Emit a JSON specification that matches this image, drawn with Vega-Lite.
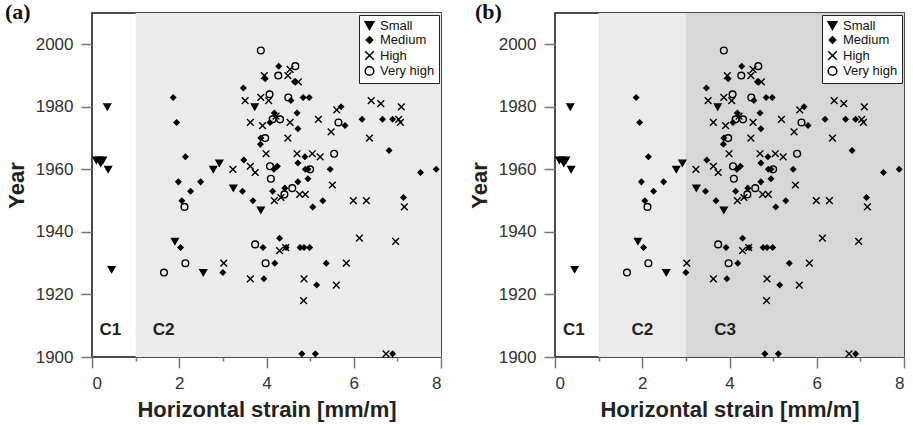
{
  "$schema": "https://vega.github.io/schema/vega-lite/v6.json",
  "padding": {"left": 4, "top": 0, "right": 2, "bottom": 2},
  "background": "white",
  "datasets": {
    "points": [
      {"x": 0.35, "y": 1980, "c": "Small"},
      {"x": 0.1, "y": 1963, "c": "Small"},
      {"x": 0.17, "y": 1963, "c": "Small"},
      {"x": 0.25, "y": 1963, "c": "Small"},
      {"x": 0.2, "y": 1962, "c": "Small"},
      {"x": 0.37, "y": 1960, "c": "Small"},
      {"x": 0.45, "y": 1928, "c": "Small"},
      {"x": 3.73, "y": 1980, "c": "Small"},
      {"x": 2.78, "y": 1960, "c": "Small"},
      {"x": 2.92, "y": 1962, "c": "Small"},
      {"x": 3.24, "y": 1954, "c": "Small"},
      {"x": 3.87, "y": 1947, "c": "Small"},
      {"x": 1.9, "y": 1937, "c": "Small"},
      {"x": 2.55, "y": 1927, "c": "Small"},

      {"x": 1.86, "y": 1983, "c": "Medium"},
      {"x": 1.94, "y": 1975, "c": "Medium"},
      {"x": 2.14, "y": 1964, "c": "Medium"},
      {"x": 1.98, "y": 1956, "c": "Medium"},
      {"x": 2.49, "y": 1956, "c": "Medium"},
      {"x": 2.26, "y": 1953, "c": "Medium"},
      {"x": 2.06, "y": 1950, "c": "Medium"},
      {"x": 2.03, "y": 1935, "c": "Medium"},
      {"x": 3.0, "y": 1927, "c": "Medium"},
      {"x": 3.47, "y": 1986, "c": "Medium"},
      {"x": 3.48, "y": 1963, "c": "Medium"},
      {"x": 3.45, "y": 1953, "c": "Medium"},
      {"x": 3.69, "y": 1950, "c": "Medium"},
      {"x": 3.86, "y": 1968, "c": "Medium"},
      {"x": 3.87, "y": 1970, "c": "Medium"},
      {"x": 3.97, "y": 1989, "c": "Medium"},
      {"x": 4.28, "y": 1993, "c": "Medium"},
      {"x": 4.18, "y": 1978, "c": "Medium"},
      {"x": 4.08, "y": 1975, "c": "Medium"},
      {"x": 4.25, "y": 1961, "c": "Medium"},
      {"x": 4.17, "y": 1960, "c": "Medium"},
      {"x": 4.14, "y": 1953, "c": "Medium"},
      {"x": 4.42, "y": 1954, "c": "Medium"},
      {"x": 4.56, "y": 1982, "c": "Medium"},
      {"x": 4.64, "y": 1988, "c": "Medium"},
      {"x": 4.7, "y": 1978, "c": "Medium"},
      {"x": 4.72, "y": 1973, "c": "Medium"},
      {"x": 4.72, "y": 1962, "c": "Medium"},
      {"x": 4.72, "y": 1956, "c": "Medium"},
      {"x": 4.84, "y": 1983, "c": "Medium"},
      {"x": 4.98, "y": 1983, "c": "Medium"},
      {"x": 4.88, "y": 1964, "c": "Medium"},
      {"x": 4.89, "y": 1960, "c": "Medium"},
      {"x": 4.95, "y": 1960, "c": "Medium"},
      {"x": 4.95, "y": 1957, "c": "Medium"},
      {"x": 5.06, "y": 1948, "c": "Medium"},
      {"x": 5.29, "y": 1950, "c": "Medium"},
      {"x": 5.46, "y": 1960, "c": "Medium"},
      {"x": 5.71, "y": 1980, "c": "Medium"},
      {"x": 5.8, "y": 1974, "c": "Medium"},
      {"x": 6.19, "y": 1976, "c": "Medium"},
      {"x": 6.66, "y": 1976, "c": "Medium"},
      {"x": 6.81, "y": 1966, "c": "Medium"},
      {"x": 6.89, "y": 1976, "c": "Medium"},
      {"x": 7.14, "y": 1951, "c": "Medium"},
      {"x": 7.53, "y": 1959, "c": "Medium"},
      {"x": 7.89, "y": 1960, "c": "Medium"},
      {"x": 4.3, "y": 1938, "c": "Medium"},
      {"x": 3.92, "y": 1935, "c": "Medium"},
      {"x": 4.45, "y": 1935, "c": "Medium"},
      {"x": 4.77, "y": 1935, "c": "Medium"},
      {"x": 4.86, "y": 1935, "c": "Medium"},
      {"x": 4.99, "y": 1935, "c": "Medium"},
      {"x": 4.19, "y": 1930, "c": "Medium"},
      {"x": 5.37, "y": 1930, "c": "Medium"},
      {"x": 3.94, "y": 1925, "c": "Medium"},
      {"x": 5.15, "y": 1923, "c": "Medium"},
      {"x": 4.81, "y": 1901, "c": "Medium"},
      {"x": 5.12, "y": 1901, "c": "Medium"},
      {"x": 6.89, "y": 1901, "c": "Medium"},

      {"x": 3.95, "y": 1990, "c": "High"},
      {"x": 4.49, "y": 1990, "c": "High"},
      {"x": 4.54, "y": 1992, "c": "High"},
      {"x": 4.73, "y": 1988, "c": "High"},
      {"x": 3.51, "y": 1982, "c": "High"},
      {"x": 3.87, "y": 1983, "c": "High"},
      {"x": 4.05, "y": 1982, "c": "High"},
      {"x": 3.63, "y": 1975, "c": "High"},
      {"x": 3.91, "y": 1974, "c": "High"},
      {"x": 4.22, "y": 1977, "c": "High"},
      {"x": 4.54, "y": 1975, "c": "High"},
      {"x": 4.49, "y": 1970, "c": "High"},
      {"x": 3.99, "y": 1965, "c": "High"},
      {"x": 3.63, "y": 1961, "c": "High"},
      {"x": 3.74, "y": 1959, "c": "High"},
      {"x": 3.23, "y": 1960, "c": "High"},
      {"x": 4.7, "y": 1965, "c": "High"},
      {"x": 5.05, "y": 1965, "c": "High"},
      {"x": 5.23, "y": 1964, "c": "High"},
      {"x": 5.19, "y": 1976, "c": "High"},
      {"x": 5.48, "y": 1972, "c": "High"},
      {"x": 5.61, "y": 1979, "c": "High"},
      {"x": 5.51, "y": 1955, "c": "High"},
      {"x": 4.76, "y": 1952, "c": "High"},
      {"x": 4.89, "y": 1952, "c": "High"},
      {"x": 4.18, "y": 1950, "c": "High"},
      {"x": 4.33, "y": 1951, "c": "High"},
      {"x": 5.99, "y": 1950, "c": "High"},
      {"x": 6.29, "y": 1950, "c": "High"},
      {"x": 6.4, "y": 1982, "c": "High"},
      {"x": 6.62, "y": 1981, "c": "High"},
      {"x": 7.09, "y": 1980, "c": "High"},
      {"x": 7.03, "y": 1976, "c": "High"},
      {"x": 7.07, "y": 1975, "c": "High"},
      {"x": 6.36, "y": 1970, "c": "High"},
      {"x": 7.16, "y": 1948, "c": "High"},
      {"x": 6.13, "y": 1938, "c": "High"},
      {"x": 6.96, "y": 1937, "c": "High"},
      {"x": 4.3, "y": 1934, "c": "High"},
      {"x": 4.44, "y": 1935, "c": "High"},
      {"x": 3.02, "y": 1930, "c": "High"},
      {"x": 5.83, "y": 1930, "c": "High"},
      {"x": 3.63, "y": 1925, "c": "High"},
      {"x": 4.86, "y": 1925, "c": "High"},
      {"x": 5.6, "y": 1923, "c": "High"},
      {"x": 4.85, "y": 1918, "c": "High"},
      {"x": 6.74, "y": 1901, "c": "High"},

      {"x": 3.87, "y": 1998, "c": "Very high"},
      {"x": 4.66, "y": 1993, "c": "Very high"},
      {"x": 4.27, "y": 1990, "c": "Very high"},
      {"x": 4.07, "y": 1984, "c": "Very high"},
      {"x": 4.5, "y": 1983, "c": "Very high"},
      {"x": 4.14, "y": 1976, "c": "Very high"},
      {"x": 4.31, "y": 1976, "c": "Very high"},
      {"x": 5.65, "y": 1975, "c": "Very high"},
      {"x": 3.97, "y": 1970, "c": "Very high"},
      {"x": 4.08, "y": 1961, "c": "Very high"},
      {"x": 4.1, "y": 1957, "c": "Very high"},
      {"x": 5.0, "y": 1960, "c": "Very high"},
      {"x": 5.55, "y": 1965, "c": "Very high"},
      {"x": 4.59, "y": 1954, "c": "Very high"},
      {"x": 4.41, "y": 1952, "c": "Very high"},
      {"x": 2.12, "y": 1948, "c": "Very high"},
      {"x": 3.74, "y": 1936, "c": "Very high"},
      {"x": 3.98, "y": 1930, "c": "Very high"},
      {"x": 2.14, "y": 1930, "c": "Very high"},
      {"x": 1.65, "y": 1927, "c": "Very high"}
    ],
    "labelsA": [
      {"x": 0.42, "y": 1908.5, "t": "C1"},
      {"x": 1.64, "y": 1908.5, "t": "C2"}
    ],
    "labelsB": [
      {"x": 0.43, "y": 1908.5, "t": "C1"},
      {"x": 2.0, "y": 1908.5, "t": "C2"},
      {"x": 3.9, "y": 1908.5, "t": "C3"}
    ],
    "c2A": [{"x1": 1, "x2": 8}],
    "c2B": [{"x1": 1, "x2": 3}],
    "c3B": [{"x1": 3, "x2": 8}],
    "linesA": [{"x": 1}],
    "linesB": [{"x": 1}, {"x": 3}]
  },
  "config": {
    "view": {"stroke": "#111", "strokeWidth": 1.5},
    "font": "Liberation Sans",
    "axis": {
      "grid": false,
      "domain": false,
      "labelFont": "Liberation Sans",
      "labelFontSize": 17,
      "labelColor": "#333",
      "titleFont": "Liberation Sans",
      "titleFontSize": 22,
      "titleFontWeight": "bold",
      "titleColor": "#222",
      "tickColor": "#777",
      "tickWidth": 1.5
    },
    "legend": {
      "orient": "top-right",
      "offset": 2,
      "padding": 4,
      "strokeColor": "#222",
      "fillColor": "white",
      "labelFont": "Liberation Sans",
      "labelFontSize": 13,
      "labelColor": "#111",
      "labelOffset": 4,
      "rowPadding": 0.5,
      "symbolSize": 75,
      "symbolStrokeWidth": 1.5,
      "title": null
    },
    "title": {
      "anchor": "start",
      "frame": "group",
      "font": "Liberation Serif",
      "fontSize": 22,
      "fontWeight": "bold",
      "color": "#111",
      "offset": -11,
      "baseline": "alphabetic"
    }
  },
  "spacing": 24,
  "resolve": {"legend": {"shape": "independent", "fill": "independent", "stroke": "independent"}},
  "hconcat": [
    {
      "width": 349,
      "height": 344,
      "title": {"text": "(a)", "dx": -87},
      "encoding": {
        "x": {"field": "x", "type": "quantitative", "scale": {"domain": [0, 8], "nice": false, "zero": false},
          "axis": {"title": "Horizontal strain [mm/m]", "values": [0,1,2,3,4,5,6,7,8], "labelExpr": "datum.value % 2 ? '' : datum.label", "tickSize": {"condition": {"test": "datum.value % 2 === 1", "value": 4}, "value": 11}, "labelPadding": 7, "titlePadding": 8}},
        "y": {"field": "y", "type": "quantitative", "scale": {"domain": [1900, 2010], "nice": false, "zero": false},
          "axis": {"title": "Year", "format": "d", "values": [1900,1920,1940,1960,1980,2000], "tickSize": 11, "labelPadding": 8, "titlePadding": 7}}
      },
      "layer": [
        {"data": {"name": "c2A"}, "mark": {"type": "rect", "color": "#ebebeb"},
          "encoding": {"x": {"field": "x1", "type": "quantitative"}, "x2": {"field": "x2"}, "y": {"value": 0}, "y2": {"value": 344}}},
        {"data": {"name": "linesA"}, "mark": {"type": "rule", "color": "#111", "strokeWidth": 2.5},
          "encoding": {"x": {"field": "x", "type": "quantitative"}}},
        {"data": {"name": "labelsA"}, "mark": {"type": "text", "fontSize": 17, "fontWeight": "bold", "color": "#222"},
          "encoding": {"text": {"field": "t"}}},
        {"data": {"name": "points"},
          "mark": {"type": "point", "filled": false, "strokeWidth": 1.4, "size": 45, "opacity": 1},
          "encoding": {
            "shape": {"field": "c", "type": "nominal", "scale": {"domain": ["Small", "Medium", "High", "Very high"], "range": ["M-1,-0.85L1,-0.85L0,0.9Z", "M0,-0.75L0.75,0L0,0.75L-0.75,0Z", "M-1,-1L1,1M-1,1L1,-1", "circle"]},
              "legend": {"orient": "top-right", "offset": 2}},
            "fill": {"field": "c", "type": "nominal", "scale": {"domain": ["Small", "Medium", "High", "Very high"], "range": ["black", "black", "transparent", "transparent"]},
              "legend": {"orient": "top-right", "offset": 2}},
            "stroke": {"field": "c", "type": "nominal", "scale": {"domain": ["Small", "Medium", "High", "Very high"], "range": ["black", "black", "black", "black"]},
              "legend": {"orient": "top-right", "offset": 2}}
          }}
      ]
    },
    {
      "width": 349,
      "height": 344,
      "title": {"text": "(b)", "dx": -80},
      "encoding": {
        "x": {"field": "x", "type": "quantitative", "scale": {"domain": [0, 8], "nice": false, "zero": false},
          "axis": {"title": "Horizontal strain [mm/m]", "values": [0,1,2,3,4,5,6,7,8], "labelExpr": "datum.value % 2 ? '' : datum.label", "tickSize": {"condition": {"test": "datum.value % 2 === 1", "value": 4}, "value": 11}, "labelPadding": 7, "titlePadding": 8}},
        "y": {"field": "y", "type": "quantitative", "scale": {"domain": [1900, 2010], "nice": false, "zero": false},
          "axis": {"title": "Year", "format": "d", "values": [1900,1920,1940,1960,1980,2000], "tickSize": 11, "labelPadding": 8, "titlePadding": 7}}
      },
      "layer": [
        {"data": {"name": "c2B"}, "mark": {"type": "rect", "color": "#ebebeb"},
          "encoding": {"x": {"field": "x1", "type": "quantitative"}, "x2": {"field": "x2"}, "y": {"value": 0}, "y2": {"value": 344}}},
        {"data": {"name": "c3B"}, "mark": {"type": "rect", "color": "#d7d7d7"},
          "encoding": {"x": {"field": "x1", "type": "quantitative"}, "x2": {"field": "x2"}, "y": {"value": 0}, "y2": {"value": 344}}},
        {"data": {"name": "linesB"}, "mark": {"type": "rule", "color": "#111", "strokeWidth": 2.5},
          "encoding": {"x": {"field": "x", "type": "quantitative"}}},
        {"data": {"name": "labelsB"}, "mark": {"type": "text", "fontSize": 17, "fontWeight": "bold", "color": "#222"},
          "encoding": {"text": {"field": "t"}}},
        {"data": {"name": "points"},
          "mark": {"type": "point", "filled": false, "strokeWidth": 1.4, "size": 45, "opacity": 1},
          "encoding": {
            "shape": {"field": "c", "type": "nominal", "scale": {"domain": ["Small", "Medium", "High", "Very high"], "range": ["M-1,-0.85L1,-0.85L0,0.9Z", "M0,-0.75L0.75,0L0,0.75L-0.75,0Z", "M-1,-1L1,1M-1,1L1,-1", "circle"]},
              "legend": {"orient": "top-right", "offset": 2}},
            "fill": {"field": "c", "type": "nominal", "scale": {"domain": ["Small", "Medium", "High", "Very high"], "range": ["black", "black", "transparent", "transparent"]},
              "legend": {"orient": "top-right", "offset": 2}},
            "stroke": {"field": "c", "type": "nominal", "scale": {"domain": ["Small", "Medium", "High", "Very high"], "range": ["black", "black", "black", "black"]},
              "legend": {"orient": "top-right", "offset": 2}}
          }}
      ]
    }
  ]
}
